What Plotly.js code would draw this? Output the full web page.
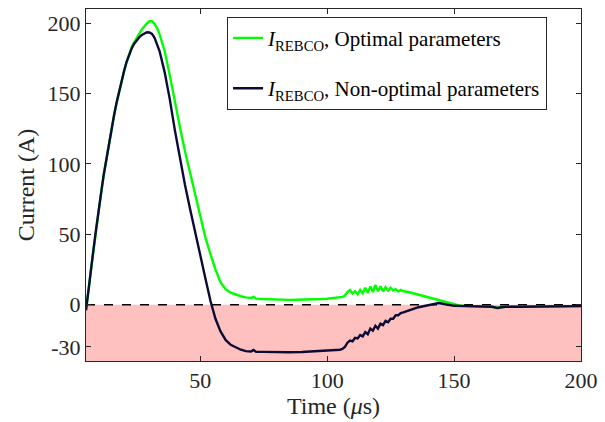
<!DOCTYPE html>
<html>
<head>
<meta charset="utf-8">
<script src="https://cdn.plot.ly/plotly-3.0.1.min.js"></script>
<style>html,body{margin:0;padding:0;background:#fff;}#chart{width:605px;height:422px;}</style>
</head>
<body>
<div id="chart"></div>
<script>
// Time (µs) and current (A)
const tOpt = [5,5.3,6,7,8,9,10,11,12,13,14,15,16,17,18,19,20,21,22,23,24,25,26,27,28,29,30,31,32,33,34,36,38,40,42,44,46,48,50,52,54,56,58,60,62,64,66,68,70,71,72,74,76,78,80,82,85,88,90,92,95,98,100,102,104,106,107,108,109,110,111,112,113,114,115,116,117,118,119,120,121,122,123,124,125,126,127,128,129,130,132,134,136,138,140,142,144,146,148,150,152,155,160,165,167,170,175,180,185,190,195,200];
const iOpt = [-3,0,10,25.5,40,54,68.5,80,92.5,103.5,114,124,134,143,151.5,159,166,172.5,178,183,186.5,190,192.5,195.5,198,199.8,201.3,201.3,199.5,196.5,192,180,163,144,126,109,94,80,64,48,36,25,16,11,8.5,7,6,5.2,4.8,5.6,4.3,4,3.8,3.6,3.5,3.5,3.4,3.5,3.5,3.6,3.8,4,4.2,4.5,5,5.5,6.5,9,10.5,8,9.5,7.5,10.5,8,12,8.5,13,9,14,9.5,13,9.5,12.5,10,12,10,11,9.5,10.5,9.5,9,8,7.5,6.5,5.5,4.5,3,2,1,0,-0.6,-1,-1.3,-1.5,-2.3,-1.5,-1.5,-1.4,-1.3,-1.2,-1.1,-1];

const tNon = [5,5.3,6,7,8,9,10,11,12,13,14,15,16,17,18,19,20,21,22,23,24,25,26,27,28,29,30,31,32,33,34,36,38,40,42,44,46,48,50,52,54,56,58,60,62,64,66,68,70,71,72,75,80,85,90,95,100,102,104,105,106,107,108,109,110,111,112,113,114,115,116,117,118,119,120,121,122,123,124,125,126,127,128,129,130,132,134,136,138,140,142,144,146,148,150,155,160,165,167,170,175,180,185,190,195,200];
const iNon = [-4,0,10,25.5,40,54,68.5,80,92.5,103.5,114,124,134,143,151.5,159,166,172.5,178,182,185.3,188,190,191.5,192.8,193.5,193.3,192.3,189.5,185,180,165,146,124,103,85,68,51,35,19,3,-10,-19,-25,-28.5,-30.5,-32,-33,-33.3,-32.2,-33.5,-33.5,-33.8,-33.8,-33.6,-33.2,-32.8,-32.6,-32.4,-32,-31.5,-30,-27,-25.5,-26,-23.5,-24,-21.5,-22.5,-19.5,-21,-17,-18.5,-15,-17,-13.5,-14.5,-11.5,-12.5,-10,-10,-7.5,-7.5,-6,-5.5,-4,-3,-1.8,-1,0,0.8,1.2,0.5,-0.3,-0.8,-1,-1.3,-1.5,-2.3,-1.5,-1.5,-1.4,-1.3,-1.2,-1.1,-1];

const xTicks = [50,100,150,200];
const yTicks = [-30,0,50,100,150,200];
const yTickLabels = ['-30','0','50','100','150','200'];
const xRange = [5,200];
const yRange = [-40,210];

const serif = 'Liberation Serif, Times New Roman, serif';
const axisCol = '#262626';

const traces = [
  {x: tOpt, y: iOpt, type: 'scatter', mode: 'lines',
   name: '<i>I</i><sub>REBCO</sub>, Optimal parameters', legendgroup: 'a',
   line: {color: '#00ff00', width: 2.4}},
  {x: tNon, y: iNon, type: 'scatter', mode: 'lines',
   name: '<i>I</i><sub>REBCO</sub>, Non-optimal parameters', legendgroup: 'b',
   line: {color: '#0b0b36', width: 2.4}}
];

const layout = {
  width: 605, height: 422,
  margin: {l: 86, r: 24, t: 9, b: 61},
  paper_bgcolor: '#fff', plot_bgcolor: '#fff',
  font: {family: serif, color: '#262626', size: 21},
  showlegend: true,
  legend: {x: 0.285, y: 0.978, xanchor: 'left', yanchor: 'top',
           bgcolor: '#fff', bordercolor: axisCol, borderwidth: 1,
           font: {family: serif, size: 21, color: '#000'},
           itemwidth: 30,
           traceorder: 'grouped', tracegroupgap: 20},
  xaxis: {range: xRange, tickvals: xTicks, ticks: 'inside', ticklen: 5,
          tickcolor: axisCol, showline: true, linecolor: axisCol, linewidth: 1,
          mirror: 'ticks', showgrid: false, zeroline: false,
          tickfont: {family: serif, size: 22, color: '#262626'},
          title: {text: 'Time (<i>μ</i>s)', font: {family: serif, size: 24, color: '#262626'}, standoff: 2}},
  yaxis: {range: yRange, tickvals: yTicks, ticktext: yTickLabels, ticks: 'inside', ticklen: 5,
          tickcolor: axisCol, showline: true, linecolor: axisCol, linewidth: 1,
          mirror: 'ticks', showgrid: false, zeroline: false,
          tickfont: {family: serif, size: 22, color: '#262626'},
          title: {text: 'Current (A)', font: {family: serif, size: 24, color: '#262626'}, standoff: 6}},
  shapes: [
    {type: 'rect', xref: 'paper', yref: 'y', x0: 0, x1: 1, y0: yRange[0], y1: 0,
     fillcolor: 'rgb(255,192,192)', line: {width: 0}, layer: 'below'},
    {type: 'line', xref: 'paper', yref: 'y', x0: 0, x1: 1, y0: 0, y1: 0,
     line: {color: '#000', width: 1.5, dash: 'dash'}, layer: 'below'}
  ]
};

Plotly.newPlot('chart', traces, layout, {displayModeBar: false, staticPlot: true});
</script>
</body>
</html>
